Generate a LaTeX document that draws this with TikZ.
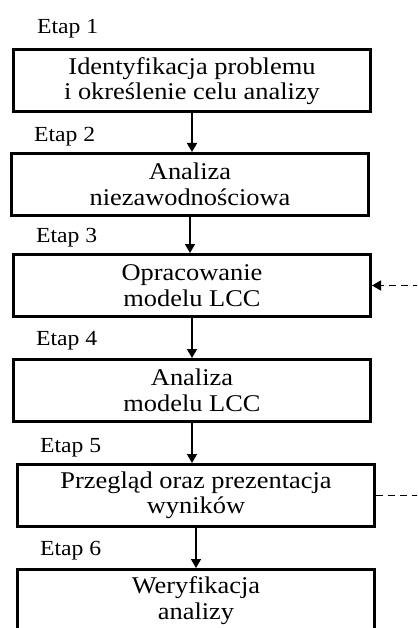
\documentclass[tikz,border=0pt]{standalone}
\usepackage{fontspec}
\setmainfont{Liberation Serif}[FakeStretch=1.1]
\usetikzlibrary{arrows.meta}
\begin{document}
\begin{tikzpicture}[x=1pt, y=-1pt,
        box/.style={draw, line width=3pt, minimum width=357pt, minimum height=62pt,
            inner sep=0pt, align=center, font=\fontsize{24}{25.5}\selectfont},
        etap/.style={anchor=base west, inner sep=0pt, font=\fontsize{21.5}{23}\selectfont},
        flow/.style={-{Triangle[length=9pt,width=10pt]}, line width=1.6pt},
        feedback/.style={dash pattern=on 7pt off 5pt, line width=1.6pt}
    ]
    \useasboundingbox (0,0) rectangle (417,628);
    \clip (0,0) rectangle (417,628);
    % stages
    \node[box] (b1) at (192,81) {Identyfikacja problemu\\i określenie celu analizy};
    \node[box] (b2) at (190,184.5) {Analiza\\niezawodnościowa};
    \node[box] (b3) at (192,285.5) {Opracowanie\\modelu LCC};
    \node[box] (b4) at (192,390.5) {Analiza\\modelu LCC};
    \node[box] (b5) at (196,495.5) {Przegląd oraz prezentacja\\wyników};
    \node[box] (b6) at (196,600.5) {Weryfikacja\\analizy};
    % labels
    \node[etap] (e1) at (37,34) {Etap 1};
    \node[etap] (e2) at (34,142) {Etap 2};
    \node[etap] (e3) at (36,242) {Etap 3};
    \node[etap] (e4) at (36,345) {Etap 4};
    \node[etap] (e5) at (40,452) {Etap 5};
    \node[etap] (e6) at (40,555) {Etap 6};
    % arrows
    \draw[flow] (b1.south) -- (b1.south |- b2.north);
    \draw[flow] (b2.south) -- (b2.south |- b3.north);
    \draw[flow] (b3.south) -- (b3.south |- b4.north);
    \draw[flow] (b4.south) -- (b4.south |- b5.north);
    \draw[flow] (b5.south) -- (b5.south |- b6.north);
    % feedback
    \coordinate (f3) at ([xshift=60pt]b3.east);
    \coordinate (f5) at ([xshift=60pt]b5.east);
    \draw[feedback, -{Triangle[length=9pt,width=10pt]}] (f3) -- (b3.east);
    \draw[feedback] (b5.east) -- (f5);
\end{tikzpicture}
\end{document}
